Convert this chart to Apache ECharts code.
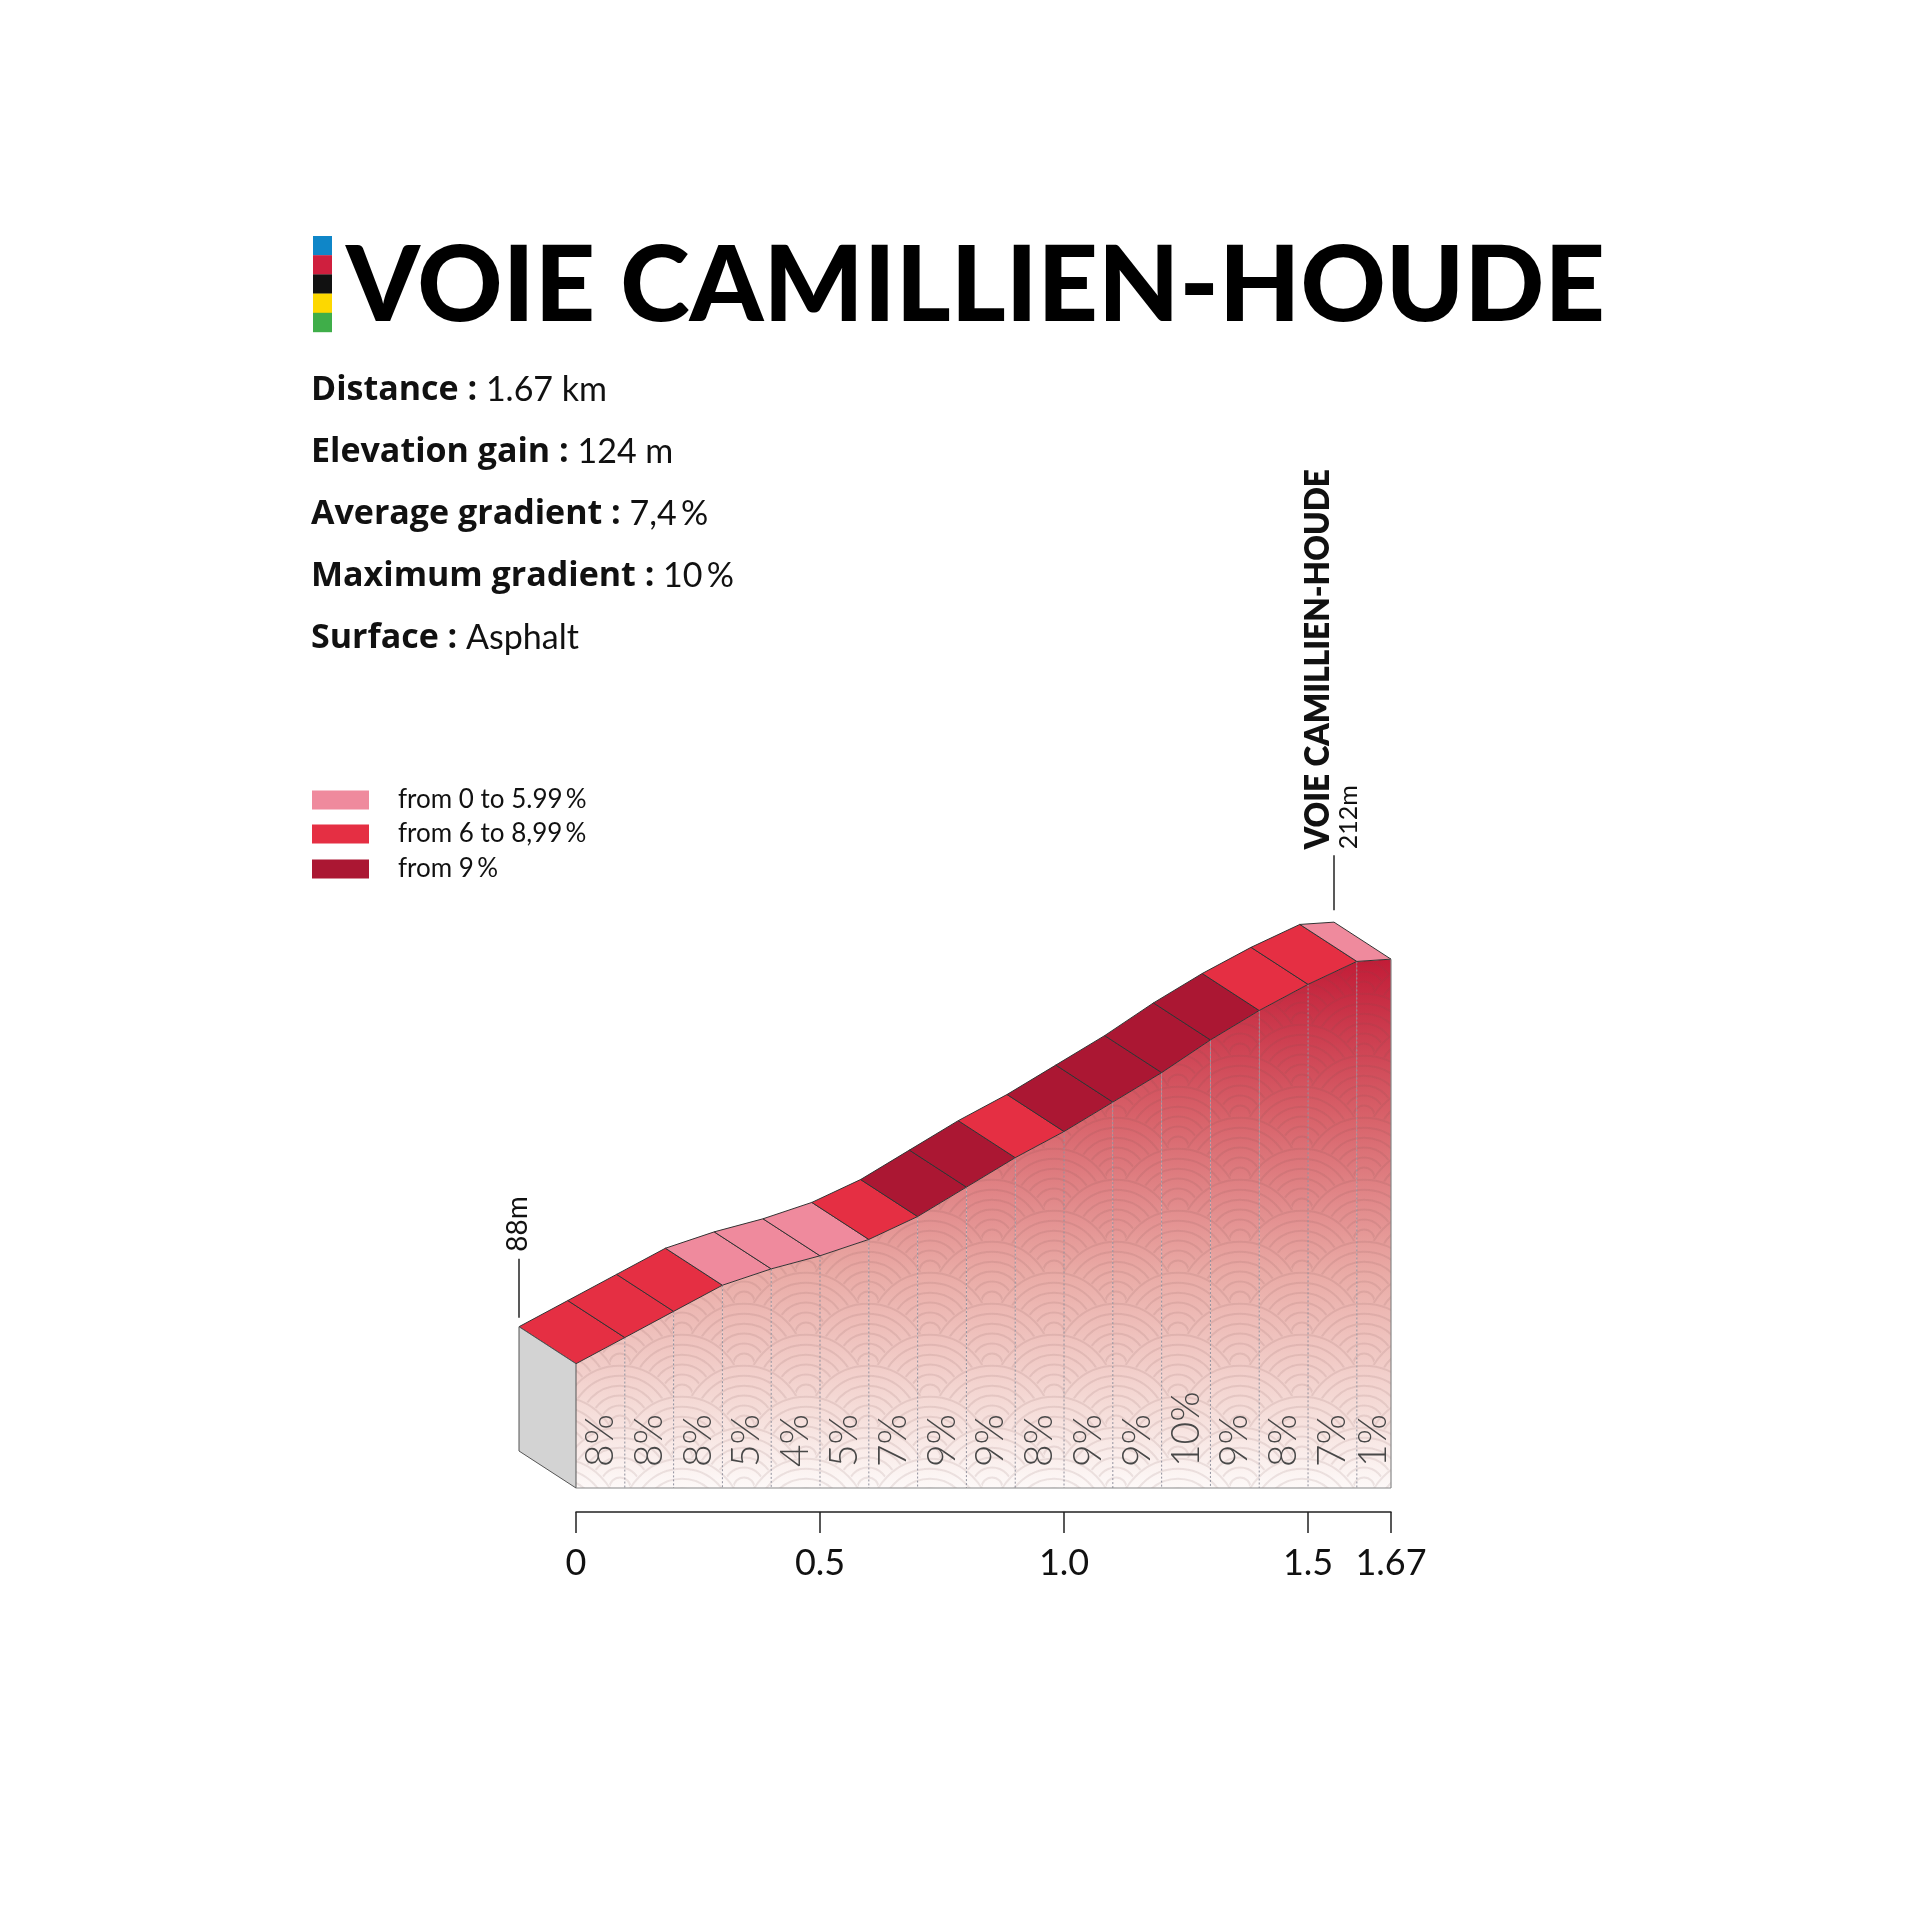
<!DOCTYPE html>
<html><head><meta charset="utf-8">
<script src="https://cdn.jsdelivr.net/npm/echarts@6/dist/echarts.min.js"></script>
<style>html,body{margin:0;padding:0;background:#fff}#c{width:1920px;height:1920px}</style>
</head><body><div id="c"></div>
<script>
// ---------- data ----------
const climbName = 'VOIE CAMILLIEN-HOUDE';
const statLabels = ['Distance :', 'Elevation gain :', 'Average gradient :', 'Maximum gradient :', 'Surface :'];
const statValues = ['1.67 km', '124 m', '7,4\u2009%', '10\u2009%', 'Asphalt'];
const legendLabels = ['from 0 to 5.99\u2009%', 'from 6 to 8,99\u2009%', 'from 9\u2009%'];
const gradeColors = ['#ef8a9d', '#e52f43', '#ab1733'];
const gradeThresholds = [6, 9];
const pointKm   = [0, 0.1, 0.2, 0.3, 0.4, 0.5, 0.6, 0.7, 0.8, 0.9, 1.0, 1.1, 1.2, 1.3, 1.4, 1.5, 1.6, 1.67];
const pointElev = [88, 96, 104, 112, 117, 121, 126, 133, 142, 151, 159, 168, 177, 187, 196, 204, 211, 211.7];
const segGrades = [8, 8, 8, 5, 4, 5, 7, 9, 9, 8, 9, 9, 10, 9, 8, 7, 1];
const startLabel = '88m';
const summitLabel = '212m';
const xTickValues = [0, 0.5, 1.0, 1.5, 1.67];
const xTickLabels = ['0', '0.5', '1.0', '1.5', '1.67'];
const stripeColors = ['#0f86c8', '#cf1f3e', '#111111', '#fdd800', '#3fae49'];

// ---------- helpers ----------
const Y_MIN = 50, Y_MAX = 220;
const DX = -57, DY = -37;
const FONT = 'Lato';
const SFONT = '"Open Sans"';
const mctx = document.createElement('canvas').getContext('2d');
function measure(text, font) { mctx.font = font; return mctx.measureText(text).width; }
function gradeColor(g) {
  return g >= gradeThresholds[1] ? gradeColors[2] : g >= gradeThresholds[0] ? gradeColors[1] : gradeColors[0];
}
function makeScales(R) {
  const c = document.createElement('canvas');
  c.width = 2 * R; c.height = R;
  const g = c.getContext('2d');
  const rings = [0.97, 0.81, 0.65, 0.49, 0.33, 0.17];
  for (let row = -2; row <= 4; row++) {
    const cy = row * R / 2;
    const off = (row % 2 !== 0) ? R : 0;
    for (let cx = -2 * R + off; cx <= 4 * R; cx += 2 * R) {
      g.globalCompositeOperation = 'destination-out';
      g.beginPath(); g.arc(cx, cy, R, 0, Math.PI * 2); g.fill();
      g.globalCompositeOperation = 'source-over';
      g.strokeStyle = 'rgba(115,70,70,0.12)';
      g.lineWidth = 2;
      for (const f of rings) { g.beginPath(); g.arc(cx, cy, R * f, 0, Math.PI * 2); g.stroke(); }
    }
  }
  return c;
}
const scaleCanvas = makeScales(62);

const segData = segGrades.map((g, i) => [pointKm[i], pointElev[i], pointKm[i + 1], pointElev[i + 1], g]);
const maxElev = Math.max(...pointElev);
const maxKm = pointKm[pointKm.length - 1];

function renderItem(params, api) {
  const i = params.dataIndex;
  const n = segGrades.length;
  const k0 = api.value(0), e0 = api.value(1), k1 = api.value(2), e1 = api.value(3), g = api.value(4);
  const p0 = api.coord([k0, e0]), p1 = api.coord([k1, e1]);
  const yb = api.coord([k0, Y_MIN])[1];
  const yTop = api.coord([0, maxElev])[1];
  const ch = [];
  const front = [p0, p1, [p1[0], yb], [p0[0], yb]];
  ch.push({ type: 'polygon', shape: { points: front }, style: {
    fill: new echarts.graphic.LinearGradient(0, yTop, 0, yb, [
      { offset: 0, color: '#c21c37' }, { offset: 0.3, color: '#d8626a' },
      { offset: 0.6, color: '#eaaca7' }, { offset: 0.85, color: '#f5dcd8' },
      { offset: 1, color: '#fdf9f8' }], true) } });
  ch.push({ type: 'polygon', shape: { points: front }, style: { fill: { image: scaleCanvas, repeat: 'repeat' } } });
  if (i > 0) {
    ch.push({ type: 'line', shape: { x1: p0[0], y1: p0[1], x2: p0[0], y2: yb },
      style: { stroke: '#8f8f9c', lineWidth: 1, lineDash: [2, 2] } });
  }
  // top surface
  ch.push({ type: 'polygon', shape: { points: [p0, p1, [p1[0] + DX, p1[1] + DY], [p0[0] + DX, p0[1] + DY]] },
    style: { fill: gradeColor(g), stroke: '#333', lineWidth: 1, lineJoin: 'round' } });
  // grade label
  const xc = (p0[0] + p1[0]) / 2;
  ch.push({ type: 'text', x: xc, y: yb - 21, rotation: Math.PI / 2,
    style: { text: g + '%', font: '300 39px ' + FONT, fill: '#484848', align: 'left', verticalAlign: 'middle' } });
  if (i === 0) {
    ch.push({ type: 'polygon', shape: { points: [p0, [p0[0] + DX, p0[1] + DY], [p0[0] + DX, yb + DY], [p0[0], yb]] },
      style: { fill: '#d3d3d3', stroke: '#555', lineWidth: 1 } });
    const lx = p0[0] + DX, ly = p0[1] + DY - 9;
    ch.push({ type: 'line', shape: { x1: lx, y1: ly, x2: lx, y2: ly - 59 }, style: { stroke: '#222', lineWidth: 1.5 } });
    ch.push({ type: 'text', x: lx - 1, y: ly - 66, rotation: Math.PI / 2,
      style: { text: startLabel, font: '400 28px ' + FONT, fill: '#111', align: 'left', verticalAlign: 'middle' } });
  }
  if (i === n - 1) {
    const x0 = api.coord([0, Y_MIN])[0];
    ch.push({ type: 'line', shape: { x1: x0, y1: yb, x2: p1[0], y2: yb }, style: { stroke: '#888', lineWidth: 1.2 } });
    ch.push({ type: 'line', shape: { x1: p1[0], y1: p1[1], x2: p1[0], y2: yb }, style: { stroke: '#888', lineWidth: 1.2 } });
    const lx = p1[0] + DX, ly = p1[1] + DY - 12;
    ch.push({ type: 'line', shape: { x1: lx, y1: ly, x2: lx, y2: ly - 55 }, style: { stroke: '#222', lineWidth: 1.5 } });
    const nf = '800 34px ' + FONT;
    const sx = 380 / measure(climbName, nf);
    ch.push({ type: 'text', x: lx - 16, y: ly - 61, rotation: Math.PI / 2, scaleX: sx,
      style: { text: climbName, font: nf, fill: '#111', align: 'left', verticalAlign: 'middle' } });
    ch.push({ type: 'text', x: lx + 15, y: ly - 61, rotation: Math.PI / 2,
      style: { text: summitLabel, font: '400 25px ' + FONT, fill: '#111', align: 'left', verticalAlign: 'middle' } });
  }
  return { type: 'group', children: ch };
}

// ---------- graphics (title, stats, legend) ----------
const graphics = [];
stripeColors.forEach((c, i) => graphics.push({ type: 'rect', shape: { x: 313, y: 236 + i * 19.2, width: 19, height: 19.4 }, style: { fill: c } }));
const titleFont = '900 105px ' + FONT;
graphics.push({ type: 'text', x: 346, y: 287, scaleX: 1259 / measure(climbName, titleFont),
  style: { text: climbName, font: titleFont, fill: '#000', verticalAlign: 'middle' } });
const statY = [390, 452, 514, 576, 638];
statLabels.forEach((l, i) => graphics.push({ type: 'text', x: 311, y: statY[i], style: {
  text: '{b|' + l + '}{r| ' + statValues[i] + '}', verticalAlign: 'middle',
  rich: { b: { font: '700 34px ' + SFONT, fill: '#111' }, r: { font: '400 34px ' + FONT, fill: '#111' } } } }));
const legY = [800, 834, 869];
legendLabels.forEach((l, i) => {
  graphics.push({ type: 'rect', shape: { x: 312, y: legY[i] - 9.5, width: 57, height: 19 }, style: { fill: gradeColors[i] } });
  graphics.push({ type: 'text', x: 398, y: legY[i], style: { text: l, font: '400 26px ' + FONT, fill: '#111', verticalAlign: 'middle' } });
});

const chart = echarts.init(document.getElementById('c'), null, { renderer: 'canvas' });
chart.setOption({
  backgroundColor: '#fff',
  animation: false,
  grid: { left: 576, top: 932, width: 815, height: 556 },
  xAxis: {
    type: 'value', min: 0, max: maxKm, offset: 24,
    axisLine: { show: true, lineStyle: { color: '#222', width: 1.5 } },
    axisTick: { show: true, inside: false, length: 21, customValues: xTickValues, lineStyle: { color: '#222', width: 1.5 } },
    axisLabel: { customValues: xTickValues, margin: 33, fontFamily: FONT, fontSize: 36, color: '#111',
      formatter: v => xTickLabels[xTickValues.findIndex(t => Math.abs(t - v) < 1e-6)] ?? '' },
    splitLine: { show: false }
  },
  yAxis: { type: 'value', min: Y_MIN, max: Y_MAX, show: false },
  graphic: graphics,
  series: [{
    type: 'custom', clip: false, renderItem,
    encode: { x: [0, 2], y: [1, 3] },
    data: segData
  }]
});
</script></body></html>
